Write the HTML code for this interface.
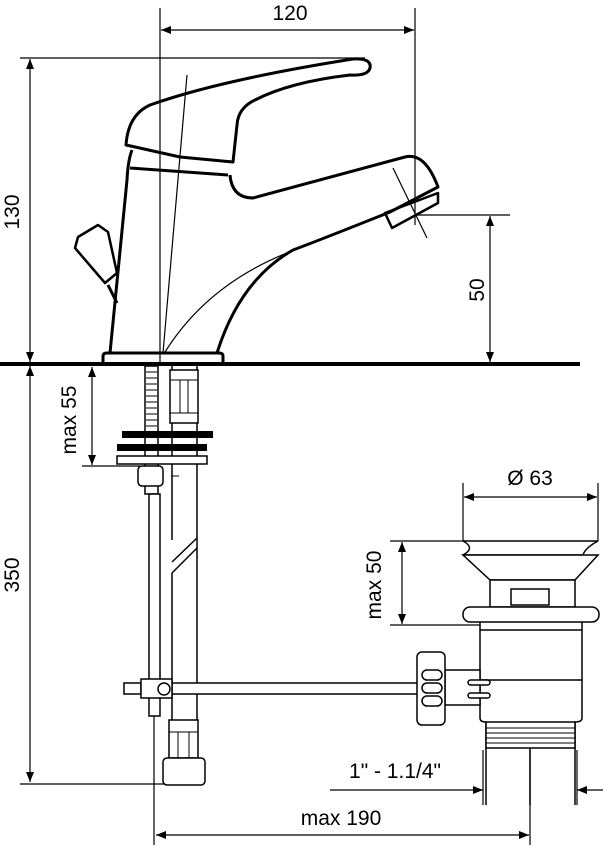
<!DOCTYPE html>
<html><head><style>body{margin:0;background:#fff}svg{display:block}text{font-family:"Liberation Sans",sans-serif;font-size:21px;fill:#000}</style></head><body>
<svg width="603" height="848" viewBox="0 0 603 848" xmlns="http://www.w3.org/2000/svg">
<defs><marker id="a" viewBox="0 0 10 10" refX="10" refY="5" markerWidth="14" markerHeight="10" markerUnits="userSpaceOnUse" orient="auto-start-reverse"><path d="M0,1 L10,5 L0,9z"/></marker></defs>
<g fill="none" stroke="#000" stroke-width="1.2">
<!-- dimension lines -->
<line x1="160" y1="8" x2="160" y2="364"/><line x1="415" y1="8" x2="415" y2="225"/>
<line x1="161" y1="30" x2="414" y2="30" marker-start="url(#a)" marker-end="url(#a)"/>
<line x1="20" y1="58" x2="365" y2="58"/>
<line x1="30" y1="59" x2="30" y2="362" marker-start="url(#a)" marker-end="url(#a)"/>
<line x1="415" y1="215" x2="510" y2="215"/>
<line x1="490" y1="216" x2="490" y2="362" marker-start="url(#a)" marker-end="url(#a)"/>
<line x1="30" y1="366" x2="30" y2="782" marker-start="url(#a)" marker-end="url(#a)"/>
<line x1="20" y1="784" x2="165" y2="784"/>
<line x1="92" y1="367" x2="92" y2="465" marker-start="url(#a)" marker-end="url(#a)"/>
<line x1="82" y1="466" x2="140" y2="466"/>
<line x1="154" y1="700" x2="154" y2="845"/>
<line x1="530" y1="750" x2="530" y2="845"/>
<line x1="156" y1="835" x2="529" y2="835" marker-start="url(#a)" marker-end="url(#a)"/>
<line x1="463" y1="483" x2="463" y2="541"/><line x1="598" y1="483" x2="598" y2="541"/>
<line x1="464" y1="497" x2="597" y2="497" marker-start="url(#a)" marker-end="url(#a)"/>
<line x1="390" y1="541" x2="463" y2="541"/><line x1="390" y1="625" x2="480" y2="625"/>
<line x1="402" y1="542" x2="402" y2="624" marker-start="url(#a)" marker-end="url(#a)"/>
<line x1="330" y1="790" x2="483" y2="790" marker-end="url(#a)"/>
<line x1="603" y1="790" x2="577" y2="790" marker-end="url(#a)"/>
<line x1="483" y1="750" x2="483" y2="805"/><line x1="577" y1="750" x2="577" y2="805"/>
<!-- thin lines faucet -->
<line x1="187" y1="75" x2="163" y2="353"/>
<path d="M165,352 Q210,280 300,248"/>
<line x1="393" y1="168" x2="427" y2="238"/>
</g>
<line x1="0" y1="364" x2="580" y2="364" stroke="#000" stroke-width="4"/>
<g fill="none" stroke="#000" stroke-width="3" stroke-linejoin="round">
<path d="M126,145 Q128,115 150,105 Q220,80 353,59 Q372,58 370,68 Q368,76 350,75 Q290,82 255,100 Q238,108 237,125 L233,162 L180,157 Z"/>
<path d="M132,150 Q128,160 127,180 L110,353"/>
<path d="M130,168 L228,175"/>
<path d="M230,175 Q232,198 253,198 L405,157 Q425,152 438,187 L390,212 Q320,240 293,250 Q240,280 217,353"/>
<path d="M385,213 L438,193 L438,203 L392,228 Z" stroke-width="2.5"/>
<path d="M103,363 L103,356 Q103,353 107,353 L219,353 Q223,353 223,356 L223,363"/>
<path d="M75,248 L78,237 L98,225 L108,232 L117,273 L105,283 Z" stroke-width="2.5"/>
<path d="M108,285 L117,303"/>
</g>
<!-- under-sink parts -->
<g fill="#fff" stroke="#000" stroke-width="1.5">
<rect x="145" y="366" width="13" height="128"/>
<rect x="149" y="494" width="11" height="222"/>
<path d="M172,366 L172,540 M197,366 L197,720 M172,573 L172,720"/>
<path d="M172,573 L197,548 M172,562 L197,538" fill="none"/>
<rect x="170" y="370" width="28" height="53"/>
<rect x="117" y="456" width="90" height="8"/>
<rect x="138" y="466" width="25" height="20" rx="4"/>
<rect x="172" y="683" width="248" height="11"/>
<rect x="124" y="683" width="17" height="11"/>
<rect x="141" y="679" width="31" height="19"/>
<circle cx="164" cy="689" r="6"/>
<rect x="169" y="720" width="29" height="38"/>
<rect x="163" y="758" width="42" height="27" rx="4"/>
</g>
<g stroke="#000" stroke-width="1"><path d="M146,372h11M146,378h11M146,384h11M146,390h11M146,396h11M146,402h11M146,408h11M146,414h11M146,420h11M146,426h11M170,380h28M170,413h28M169,732h29M180,380v33M188,380v33M178,732v26M189,732v26M171,476h8"/></g>
<rect x="122" y="431" width="91" height="7"/>
<rect x="117" y="444" width="90" height="7"/>
<!-- waste -->
<g fill="#fff" stroke="#000" stroke-width="1.5">
<path d="M463,541 L598,541 Q585,548 583,555 L463,555 Q476,548 463,541Z" fill="none"/>
<path d="M463,555 L598,555 L575,580 L490,580 Z"/>
<rect x="490" y="580" width="85" height="27"/>
<rect x="511" y="589" width="38" height="16"/>
<rect x="463" y="607" width="136" height="15" rx="7"/>
<path d="M480,622 L480,718 Q480,722 486,722 L486,805 M582,622 L582,718 Q582,722 575,722 L575,805 M480,630 L582,630 M480,680 L582,680" fill="none"/>
<rect x="486" y="722" width="89" height="26"/>
<line x1="530" y1="748" x2="530" y2="805"/>
<rect x="445" y="670" width="35" height="35"/>
<rect x="417" y="652" width="28" height="73" rx="5"/>
<rect x="422" y="670" width="20" height="10" rx="5"/><rect x="422" y="683" width="20" height="10" rx="5"/><rect x="422" y="696" width="20" height="10" rx="5"/>
<rect x="468" y="680" width="22" height="5" rx="2.5"/><rect x="468" y="693" width="22" height="5" rx="2.5"/>
</g>
<g stroke="#000" stroke-width="1"><path d="M486,728h89M486,733h89M486,738h89M486,743h89"/></g>
<text x="290" y="20" text-anchor="middle">120</text>
<text transform="translate(19,212) rotate(-90)" text-anchor="middle">130</text>
<text transform="translate(484,290) rotate(-90)" text-anchor="middle">50</text>
<text transform="translate(19,575) rotate(-90)" text-anchor="middle">350</text>
<text transform="translate(76,420) rotate(-90)" text-anchor="middle">max 55</text>
<text transform="translate(381,585) rotate(-90)" text-anchor="middle">max 50</text>
<text x="530" y="485" text-anchor="middle">Ø 63</text>
<text x="395" y="778" text-anchor="middle">1" - 1.1/4"</text>
<text x="341" y="825" text-anchor="middle">max 190</text>
</svg>
</body></html>
